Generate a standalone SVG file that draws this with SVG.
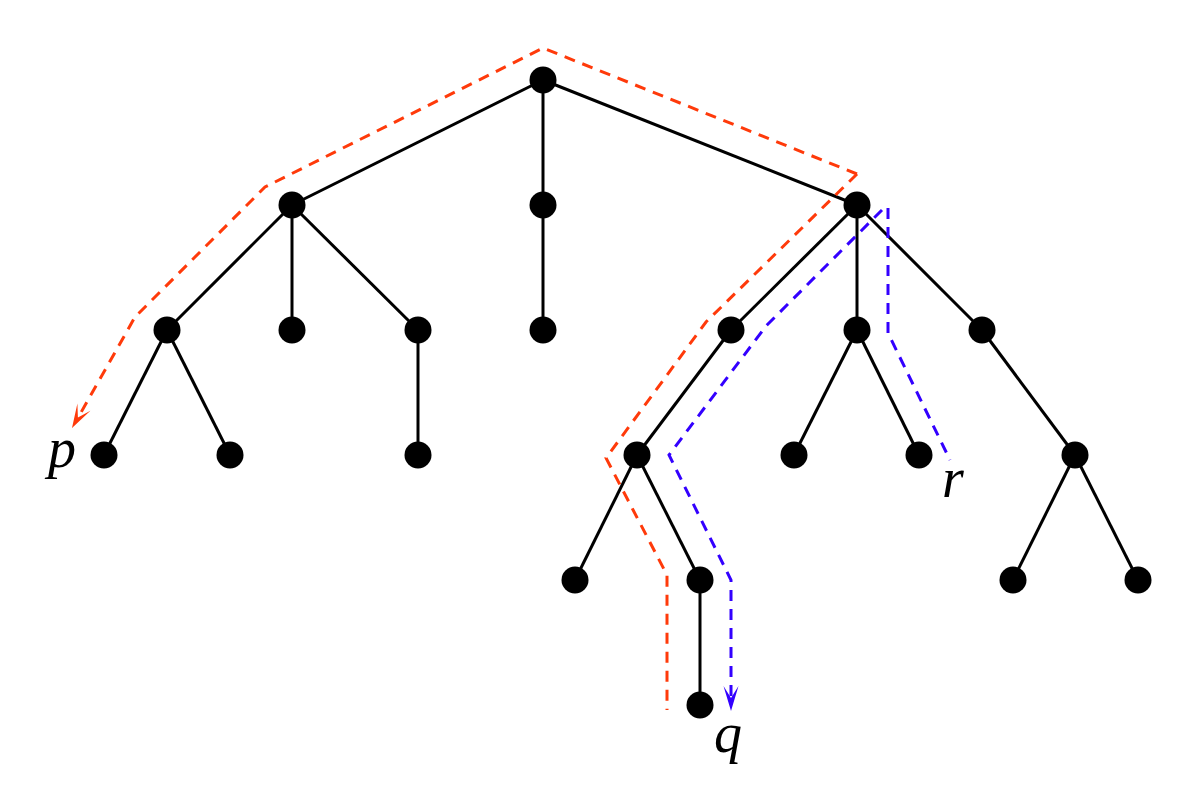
<svg xmlns="http://www.w3.org/2000/svg" width="1200" height="809" viewBox="0 0 1200 809">
<style>
.e{stroke:#000;stroke-width:3;fill:none}
.n{fill:#000}
.red{stroke:#ff3a0a;stroke-width:3;fill:none;stroke-dasharray:11 8}
.blue{stroke:#3300ff;stroke-width:3;fill:none;stroke-dasharray:11 8}
.lbl{font-family:'Liberation Serif','Times New Roman',serif;font-style:italic;font-size:56px;fill:#000}
</style>
<g id="connectors">
<line class="e" x1="543" y1="80" x2="292" y2="205"/>
<line class="e" x1="543" y1="80" x2="543" y2="205"/>
<line class="e" x1="543" y1="80" x2="857" y2="205"/>
<line class="e" x1="292" y1="205" x2="167" y2="330"/>
<line class="e" x1="292" y1="205" x2="292" y2="330"/>
<line class="e" x1="292" y1="205" x2="418" y2="330"/>
<line class="e" x1="543" y1="205" x2="543" y2="330"/>
<line class="e" x1="857" y1="205" x2="731" y2="330"/>
<line class="e" x1="857" y1="205" x2="857" y2="330"/>
<line class="e" x1="857" y1="205" x2="982" y2="330"/>
<line class="e" x1="167" y1="330" x2="104" y2="455"/>
<line class="e" x1="167" y1="330" x2="230" y2="455"/>
<line class="e" x1="418" y1="330" x2="418" y2="455"/>
<line class="e" x1="731" y1="330" x2="637" y2="455"/>
<line class="e" x1="857" y1="330" x2="794" y2="455"/>
<line class="e" x1="857" y1="330" x2="919" y2="455"/>
<line class="e" x1="982" y1="330" x2="1075" y2="455"/>
<line class="e" x1="637" y1="455" x2="575" y2="580"/>
<line class="e" x1="637" y1="455" x2="700" y2="580"/>
<line class="e" x1="1075" y1="455" x2="1013" y2="580"/>
<line class="e" x1="1075" y1="455" x2="1138" y2="580"/>
<line class="e" x1="700" y1="580" x2="700" y2="705"/>
<polyline class="red" points="857,174 543,48 265,187 135,317 79,416"/>
<path d="M72,428 L90.4,410.8 L77.9,417.6 L77.4,403.4 Z" fill="#ff3a0a"/>
<polyline class="red" points="857,174 706,322 606,458 667,575 667,710"/>
<polyline class="blue" points="888,208 888,333 950,460"/>
<polyline class="blue" points="882,210 766,326 669,455 731,580 731,698"/>
<path d="M731,711 L723.5,686 L731,698 L738.5,686 Z" fill="#3300ff"/>
</g>
<g id="n0"><circle class="n" cx="543" cy="80" r="13.5"/></g>
<g id="n1"><circle class="n" cx="292" cy="205" r="13.5"/></g>
<g id="n2"><circle class="n" cx="543" cy="205" r="13.5"/></g>
<g id="n3"><circle class="n" cx="857" cy="205" r="13.5"/></g>
<g id="n4"><circle class="n" cx="167" cy="330" r="13.5"/></g>
<g id="n5"><circle class="n" cx="292" cy="330" r="13.5"/></g>
<g id="n6"><circle class="n" cx="418" cy="330" r="13.5"/></g>
<g id="n7"><circle class="n" cx="543" cy="330" r="13.5"/></g>
<g id="n8"><circle class="n" cx="731" cy="330" r="13.5"/></g>
<g id="n9"><circle class="n" cx="857" cy="330" r="13.5"/></g>
<g id="n10"><circle class="n" cx="982" cy="330" r="13.5"/></g>
<g id="n11"><circle class="n" cx="104" cy="455" r="13.5"/></g>
<g id="n12"><circle class="n" cx="230" cy="455" r="13.5"/></g>
<g id="n13"><circle class="n" cx="418" cy="455" r="13.5"/></g>
<g id="n14"><circle class="n" cx="637" cy="455" r="13.5"/></g>
<g id="n15"><circle class="n" cx="794" cy="455" r="13.5"/></g>
<g id="n16"><circle class="n" cx="919" cy="455" r="13.5"/></g>
<g id="n17"><circle class="n" cx="1075" cy="455" r="13.5"/></g>
<g id="n18"><circle class="n" cx="575" cy="580" r="13.5"/></g>
<g id="n19"><circle class="n" cx="700" cy="580" r="13.5"/></g>
<g id="n20"><circle class="n" cx="1013" cy="580" r="13.5"/></g>
<g id="n21"><circle class="n" cx="1138" cy="580" r="13.5"/></g>
<g id="n22"><circle class="n" cx="700" cy="705" r="13.5"/></g>
<g id="labels">
<text class="lbl" x="48" y="467">p</text>
<text class="lbl" x="714" y="752">q</text>
<text class="lbl" x="942" y="497">r</text>
</g>
</svg>
